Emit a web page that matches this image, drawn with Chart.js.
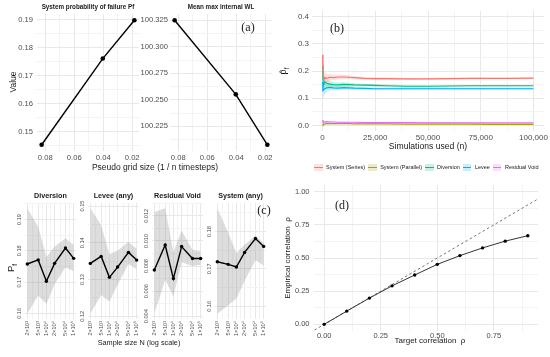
<!DOCTYPE html>
<html>
<head>
<meta charset="utf-8">
<script src="https://cdn.jsdelivr.net/npm/chart.js@4.4.0/dist/chart.umd.min.js"></script>
<style>
  body { margin: 0; width: 550px; height: 357px; background: #fff; position: relative; overflow: hidden;
         font-family: "Liberation Sans", Arial, sans-serif; }
  .txt { position: absolute; white-space: nowrap; line-height: 1; color: #1a1a1a; }
  .txt sub { font-size: 70%; }
</style>
</head>
<body>
<script>
// (a) grid convergence
const gridSize = [0.0825, 0.0403, 0.0185];
const pfSystem = [0.1453, 0.1761, 0.1898];
const meanMaxWL = [100.325, 100.2552, 100.2077];

// (b) running estimates vs simulations used
const nSim = [50, 200, 500, 1000, 2000, 3500, 5000, 7500, 10000, 12500, 15000, 20000, 25000, 30000, 40000, 50000, 60000, 70000, 80000, 90000, 100000];
const pSeries   = [0.260, 0.195, 0.165, 0.176, 0.173, 0.177, 0.176, 0.178, 0.178, 0.177, 0.176, 0.173, 0.172, 0.172, 0.171, 0.171, 0.172, 0.173, 0.173, 0.173, 0.174];
const pParallel = [0.000, 0.003, 0.005, 0.006, 0.007, 0.007, 0.007, 0.007, 0.007, 0.007, 0.006, 0.006, 0.006, 0.006, 0.005, 0.005, 0.005, 0.005, 0.004, 0.004, 0.004];
const pDiversion = [0.220, 0.170, 0.150, 0.160, 0.155, 0.152, 0.150, 0.149, 0.151, 0.150, 0.149, 0.148, 0.147, 0.146, 0.144, 0.144, 0.145, 0.146, 0.146, 0.146, 0.146];
const pLevee    = [0.160, 0.128, 0.130, 0.135, 0.138, 0.140, 0.138, 0.137, 0.139, 0.138, 0.137, 0.136, 0.135, 0.135, 0.135, 0.135, 0.135, 0.135, 0.135, 0.135, 0.135];
const pResidual = [0.020, 0.015, 0.013, 0.013, 0.014, 0.013, 0.013, 0.012, 0.012, 0.012, 0.012, 0.011, 0.011, 0.011, 0.011, 0.010, 0.010, 0.010, 0.010, 0.010, 0.010];
// half widths of the confidence ribbons
const bandSeries   = [0.050, 0.035, 0.028, 0.022, 0.016, 0.012, 0.010, 0.009, 0.008, 0.007, 0.006, 0.005, 0.0047, 0.0043, 0.0037, 0.0033, 0.003, 0.0028, 0.0026, 0.0025, 0.0024];
const bandParallel = [0.004, 0.004, 0.004, 0.003, 0.003, 0.002, 0.002, 0.002, 0.0015, 0.0015, 0.0013, 0.0012, 0.001, 0.001, 0.0008, 0.0007, 0.0006, 0.0006, 0.0005, 0.0005, 0.0005];
const bandDiversion = [0.045, 0.032, 0.026, 0.021, 0.015, 0.011, 0.0095, 0.0085, 0.0075, 0.0065, 0.0058, 0.005, 0.0045, 0.0041, 0.0035, 0.0031, 0.0029, 0.0027, 0.0025, 0.0024, 0.0022];
const bandLevee    = [0.040, 0.030, 0.024, 0.020, 0.014, 0.011, 0.009, 0.008, 0.007, 0.0063, 0.0056, 0.0048, 0.0043, 0.0039, 0.0034, 0.003, 0.0028, 0.0026, 0.0024, 0.0023, 0.0021];
const bandResidual = [0.008, 0.006, 0.005, 0.004, 0.003, 0.0025, 0.002, 0.0018, 0.0016, 0.0014, 0.0013, 0.0012, 0.001, 0.001, 0.0009, 0.0008, 0.0008, 0.0007, 0.0007, 0.0006, 0.0006];
const seriesNames = ["System (Series)", "System (Parallel)", "Diversion", "Levee", "Residual Void"];

// (c) convergence with sample size
const sampleN = [2000, 5000, 10000, 20000, 50000, 100000];
const sampleLabels = ["2×10³", "5×10³", "1×10⁴", "2×10⁴", "5×10⁴", "1×10⁵"];
const divP  = [0.1758, 0.1771, 0.1703, 0.1760, 0.1809, 0.1776];
const divLo = [0.1599, 0.1657, 0.1630, 0.1694, 0.1747, 0.1735];
const divHi = [0.1936, 0.1877, 0.1780, 0.1813, 0.1840, 0.1819];
const levP  = [0.1344, 0.1363, 0.1306, 0.1334, 0.1374, 0.1353];
const levLo = [0.1207, 0.1258, 0.1240, 0.1286, 0.1342, 0.1328];
const levHi = [0.1494, 0.1448, 0.1369, 0.1379, 0.1402, 0.1383];
const rvP   = [0.00768, 0.00967, 0.0070, 0.00955, 0.0086, 0.0086];
const rvLo  = [0.0042, 0.0069, 0.0056, 0.0083, 0.0080, 0.0081];
const rvHi  = [0.0123, 0.0126, 0.0091, 0.0108, 0.0093, 0.0092];
const sysP  = [0.1719, 0.1712, 0.1705, 0.1744, 0.1781, 0.1760];
const sysLo = [0.1580, 0.1603, 0.1621, 0.1668, 0.1723, 0.1709];
const sysHi = [0.1862, 0.1797, 0.1742, 0.1765, 0.1788, 0.1769];
const facetNames = ["Diversion", "Levee (any)", "Residual Void", "System (any)"];

// (d) target vs empirical correlation
const targetRho = [0, 0.1, 0.2, 0.3, 0.4, 0.5, 0.6, 0.7, 0.8, 0.9];
const empiricalRho = [0, 0.1, 0.198, 0.29, 0.372, 0.452, 0.518, 0.576, 0.627, 0.668];
const identity = [-0.1, 1.1];

const seriesColors = ["#F8766D", "#A3A500", "#00BF7D", "#00B0F6", "#E76BF3"];
const MAJOR = "#e8e8e8";
const MINOR = "#f3f3f3";

Chart.defaults.font.family = '"Liberation Sans", Arial, sans-serif';

const rgba = (hex, a) => {
  const n = parseInt(hex.slice(1), 16);
  return `rgba(${n >> 16},${(n >> 8) & 255},${n & 255},${a})`;
};

// ggplot-like 5% expansion
const expand = (vals, f = 0.05) => {
  const lo = Math.min(...vals);
  const hi = Math.max(...vals);
  const pad = (hi - lo) * f;
  return [lo - pad, hi + pad];
};
const expandLog = (vals) => expand(vals.map(Math.log10)).map((v) => 10 ** v);

const label = (html, x, y, opt = {}) => {
  const d = document.createElement("div");
  d.className = "txt";
  d.innerHTML = html;
  d.style.fontSize = (opt.size || 8) + "px";
  if (opt.bold) d.style.fontWeight = "bold";
  if (opt.serif) d.style.fontFamily = '"Liberation Serif", "DejaVu Serif", serif';
  d.style.left = x + "px";
  d.style.top = y + "px";
  d.style.transform = "translate(-50%,-50%)" + (opt.rot ? " rotate(-90deg)" : "");
  document.body.appendChild(d);
};

const axis = (o) => ({
  type: o.type || "linear",
  reverse: !!o.reverse,
  min: o.range[0],
  max: o.range[1],
  border: { display: false },
  grid: {
    drawTicks: false,
    color: (ctx) => (ctx.tick && o.major.includes(ctx.tick.value) ? MAJOR : MINOR),
  },
  ticks: {
    color: "#4d4d4d",
    font: { size: o.size || 7.5 },
    padding: o.pad ?? 2,
    minRotation: o.rot || 0,
    maxRotation: o.rot || 0,
    crossAlign: o.cross || "near",
    autoSkip: false,
    callback: (v) => (o.major.includes(v) ? o.fmt(v) : ""),
  },
  afterBuildTicks: (s) => {
    s.ticks = o.major
      .concat(o.minor || [])
      .filter((v) => v >= s.min && v <= s.max)
      .sort((a, b) => a - b)
      .map((v) => ({ value: v }));
  },
});

const noPad = (s) => {
  s.paddingLeft = s.paddingRight = s.paddingTop = s.paddingBottom = 0;
};

// box = [x0, x1, y0, y1] of the plot area, m = [left, top, right, bottom] margins
const makeChart = (box, m, datasets, scales) => {
  const w = box[1] - box[0] + m[0] + m[2];
  const h = box[3] - box[2] + m[1] + m[3];
  const c = document.createElement("canvas");
  c.width = w;
  c.height = h;
  c.style.cssText = `position:absolute;left:${box[0] - m[0]}px;top:${box[2] - m[1]}px;width:${w}px;height:${h}px`;
  document.body.appendChild(c);
  scales.x.afterFit = (s) => { s.height = m[3]; noPad(s); };
  scales.y.afterFit = (s) => { s.width = m[0]; noPad(s); };
  return new Chart(c, {
    type: "line",
    data: { datasets },
    options: {
      responsive: false,
      animation: false,
      events: [],
      layout: { padding: { left: 0, top: m[1], right: m[2], bottom: 0 } },
      plugins: { legend: { display: false }, tooltip: { enabled: false } },
      scales,
    },
  });
};

const xy = (xs, ys) => xs.map((x, i) => ({ x, y: ys[i] }));
const blackLine = (data, r) => ({
  data, borderColor: "#000", borderWidth: 1.4, pointRadius: r,
  pointBackgroundColor: "#000", pointBorderWidth: 0, tension: 0, order: 0,
});

// ---------- (a)
const gridX = { range: expand(gridSize), reverse: true, major: [0.02, 0.04, 0.06, 0.08], minor: [0.03, 0.05, 0.07], fmt: (v) => v.toFixed(2), size: 7.6, pad: 2 };
makeChart([37, 139, 14, 151], [30, 8, 6, 14], [blackLine(xy(gridSize, pfSystem), 2.3)], {
  x: axis(gridX),
  y: axis({ range: expand(pfSystem), major: [0.15, 0.16, 0.17, 0.18, 0.19], minor: [0.145, 0.155, 0.165, 0.175, 0.185], fmt: (v) => v.toFixed(2), size: 7.6, pad: 4 }),
});
makeChart([170, 272, 14, 151], [34, 8, 8, 14], [blackLine(xy(gridSize, meanMaxWL), 2.3)], {
  x: axis(gridX),
  y: axis({ range: expand(meanMaxWL), major: [100.225, 100.25, 100.275, 100.3, 100.325], minor: [100.2125, 100.2375, 100.2625, 100.2875, 100.3125], fmt: (v) => v.toFixed(3), size: 7.6, pad: 2 }),
});
label("System probability of failure Pf", 88, 7, { size: 6.3, bold: true });
label("Mean max internal WL", 221, 7, { size: 6.3, bold: true });
label("(a)", 248, 27, { size: 12, serif: true });
label("Value", 13, 82, { size: 8.5, rot: true });
label("Pseudo grid size (1 / n timesteps)", 155, 167, { size: 8.5 });

// ---------- (b)
const series = [
  { p: pSeries, band: bandSeries },
  { p: pParallel, band: bandParallel },
  { p: pDiversion, band: bandDiversion },
  { p: pLevee, band: bandLevee },
  { p: pResidual, band: bandResidual },
];
const bData = series.map((s, i) => ({
  data: xy(nSim, s.p), borderColor: seriesColors[i], borderWidth: 1.2, pointRadius: 0, tension: 0, order: 0,
}));
series.forEach((s, i) => {
  const lo = bData.length;
  bData.push({ data: xy(nSim, s.p.map((v, j) => v - s.band[j])), borderWidth: 0, pointRadius: 0, order: 1 });
  bData.push({
    data: xy(nSim, s.p.map((v, j) => v + s.band[j])), borderWidth: 0, pointRadius: 0, order: 1,
    fill: lo, backgroundColor: rgba(seriesColors[i], 0.22),
  });
});
makeChart([312, 544, 11, 131], [28, 8, 6, 14], bData, {
  x: axis({ range: [-5000, 105000], major: [0, 25000, 50000, 75000, 100000], minor: [12500, 37500, 62500, 87500], fmt: (v) => v.toLocaleString("en-US"), size: 8, pad: 2 }),
  y: axis({ range: [-0.02, 0.42], major: [0, 0.1, 0.2, 0.3, 0.4], minor: [0.05, 0.15, 0.25, 0.35], fmt: (v) => v.toFixed(1), size: 8, pad: 3 }),
});
label("(b)", 337, 28, { size: 12, serif: true });
label("p̂<sub>f</sub>", 285, 71, { size: 9, rot: true });
label("Simulations used (n)", 428, 146, { size: 8.6 });

const legend = document.createElement("div");
legend.style.cssText = "position:absolute;left:314px;top:164px;display:flex;align-items:center;font-size:5.5px;color:#1a1a1a;line-height:1;white-space:nowrap;";
seriesNames.forEach((name, i) => {
  const item = document.createElement("div");
  item.style.cssText = "display:flex;align-items:center;margin-right:3px;flex:none;white-space:nowrap;";
  item.innerHTML =
    `<span style="position:relative;display:inline-block;width:8.5px;height:7px;margin-right:3.5px;background:${rgba(seriesColors[i], 0.22)}">` +
    `<span style="position:absolute;left:0;right:0;top:3px;height:1.2px;background:${seriesColors[i]}"></span></span>` +
    `<span style="white-space:nowrap">${name}</span>`;
  legend.appendChild(item);
});
document.body.appendChild(legend);

// ---------- (c)
const facets = [
  { p: divP, lo: divLo, hi: divHi, major: [0.16, 0.17, 0.18, 0.19], minor: [0.165, 0.175, 0.185, 0.195], dec: 2, x0: 25, pad: 0 },
  { p: levP, lo: levLo, hi: levHi, major: [0.12, 0.13, 0.14, 0.15], minor: [0.125, 0.135, 0.145], dec: 2, x0: 88, pad: 0 },
  { p: rvP, lo: rvLo, hi: rvHi, major: [0.004, 0.006, 0.008, 0.01, 0.012], minor: [0.005, 0.007, 0.009, 0.011, 0.013], dec: 3, x0: 152, pad: -1.5 },
  { p: sysP, lo: sysLo, hi: sysHi, major: [0.16, 0.17, 0.18], minor: [0.155, 0.165, 0.175, 0.185], dec: 2, x0: 215, pad: 0 },
];
const logMinor = [3162, 7071, 14142, 31623, 70711];
facets.forEach((f, i) => {
  const x1 = f.x0 + 51;
  makeChart([f.x0, x1, 203, 319], [14, 5, 4, 20], [
    blackLine(xy(sampleN, f.p), 1.7),
    { data: xy(sampleN, f.lo), borderWidth: 0, pointRadius: 0, order: 1 },
    { data: xy(sampleN, f.hi), borderWidth: 0, pointRadius: 0, order: 1, fill: 1, backgroundColor: "rgba(120,120,120,0.25)" },
  ], {
    x: axis({ type: "logarithmic", range: expandLog(sampleN), major: sampleN, minor: logMinor, fmt: (v) => sampleLabels[sampleN.indexOf(v)], size: 5.6, rot: 90, pad: 2 }),
    y: axis({ range: expand(f.lo.concat(f.hi)), major: f.major, minor: f.minor, fmt: (v) => v.toFixed(f.dec), size: 5.6, rot: 90, cross: "center", pad: f.pad }),
  });
  label(facetNames[i], (f.x0 + x1) / 2, 196, { size: 7.2, bold: true });
});
label("(c)", 264, 210, { size: 12, serif: true });
label("P<sub>f</sub>", 12, 268, { size: 9.5, rot: true });
label("Sample size N (log scale)", 139, 343, { size: 7.3 });

// ---------- (d)
makeChart([314, 538, 185, 331], [24, 7, 9, 12], [
  { data: xy(targetRho, empiricalRho), borderColor: "#333", borderWidth: 1, pointRadius: 1.7, pointBackgroundColor: "#000", pointBorderWidth: 0, tension: 0, order: 0 },
  { data: xy(identity, identity), borderColor: "#666", borderWidth: 0.9, borderDash: [2.5, 2.5], pointRadius: 0, order: 1 },
], {
  x: axis({ range: expand(targetRho), major: [0, 0.25, 0.5, 0.75], minor: [0.125, 0.375, 0.625, 0.875], fmt: (v) => v.toFixed(2), size: 7.5, pad: 0 }),
  y: axis({ range: [-0.05, 1.05], major: [0, 0.25, 0.5, 0.75, 1], minor: [0.125, 0.375, 0.625, 0.875], fmt: (v) => v.toFixed(2), size: 7.5, pad: 4.5 }),
});
label("(d)", 342, 205, { size: 12, serif: true });
label("Empirical correlation&nbsp; ρ", 288, 258, { size: 8, rot: true });
label("Target correlation&nbsp; ρ", 430, 341, { size: 8 });
</script>
</body>
</html>
